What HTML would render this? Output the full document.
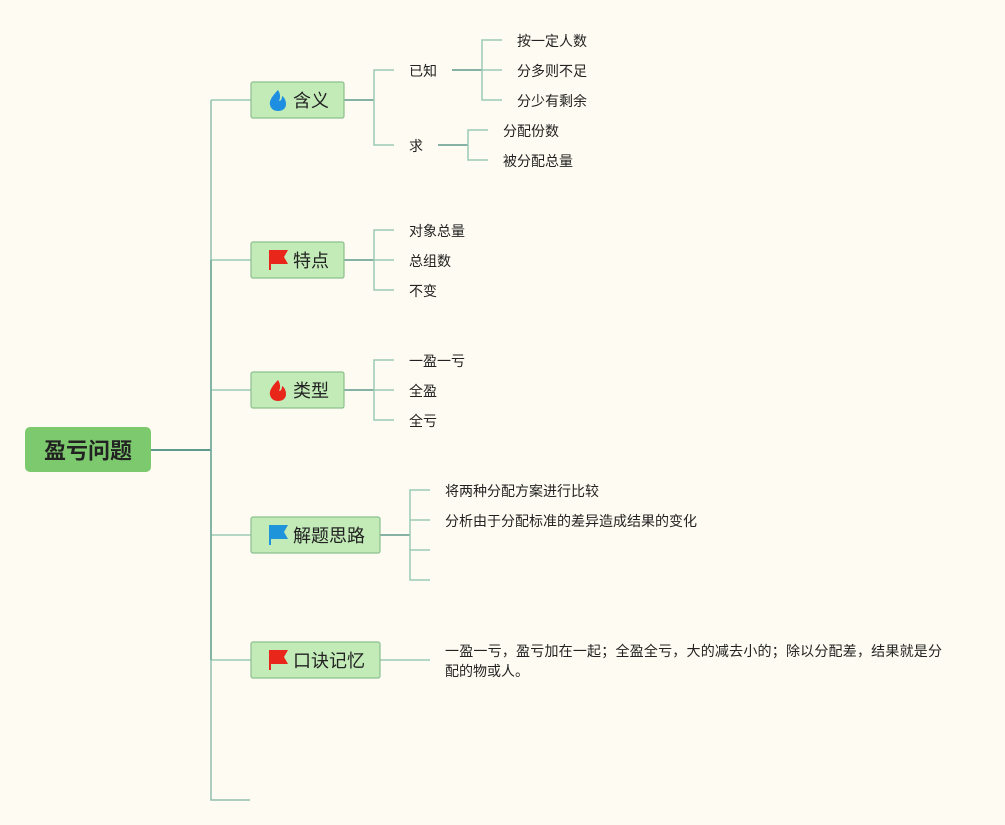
<!DOCTYPE html>
<html><head><meta charset="utf-8"><style>
html,body{margin:0;padding:0;background:#fefcf2;}
svg{display:block;}
text{font-family:"Liberation Sans","Noto Sans CJK SC",sans-serif;fill:#222;dominant-baseline:central;}
.c{font-size:14px;}
.n{font-size:18px;}
</style></head><body>
<svg width="1005" height="825" viewBox="0 0 1005 825">
<rect width="1005" height="825" fill="#fefcf2"/>
<g fill="none" stroke-width="1.5">
<!-- trunk -->
<path d="M151 450H211" stroke="#5e9a8c" stroke-width="2"/>
<path d="M211 100V800H250" stroke="#8fbfae"/>
<path d="M211 100H251M211 260H251M211 390H251M211 535H251M211 660H251" stroke="#9cc9b4"/>
<path d="M211 260V660" stroke="#6da597"/>
<!-- 含义 -->
<path d="M344 100H374" stroke="#5e9a8c"/>
<path d="M394 70H374V145H394" stroke="#9cc9b4"/>
<path d="M452 70H482" stroke="#5e9a8c"/>
<path d="M502 40H482V100H502M482 70H502" stroke="#9cc9b4"/>
<path d="M438 145H468" stroke="#5e9a8c"/>
<path d="M488 130H468V160H488" stroke="#9cc9b4"/>
<!-- 特点 -->
<path d="M344 260H374" stroke="#5e9a8c"/>
<path d="M394 230H374V290H394M374 260H394" stroke="#9cc9b4"/>
<!-- 类型 -->
<path d="M344 390H374" stroke="#5e9a8c"/>
<path d="M394 360H374V420H394M374 390H394" stroke="#9cc9b4"/>
<!-- 解题思路 -->
<path d="M380 535H410" stroke="#5e9a8c"/>
<path d="M430 490H410V580H430M410 520H430M410 550H430" stroke="#9cc9b4"/>
<!-- 口诀 -->
<path d="M380 660H430" stroke="#9cc9b4"/>
</g>
<!-- root -->
<rect x="25" y="427" width="126" height="45" rx="5" fill="#7dc96e"/>
<text x="88" y="451" text-anchor="middle" style="font-size:22px;font-weight:bold" fill="#111">盈亏问题</text>
<!-- branch nodes -->
<g fill="#c2ebb8" stroke="#8cbf8f" stroke-width="1.2">
<rect x="251" y="82" width="93" height="36" rx="2"/>
<rect x="251" y="242" width="93" height="36" rx="2"/>
<rect x="251" y="372" width="93" height="36" rx="2"/>
<rect x="251" y="517" width="129" height="36" rx="2"/>
<rect x="251" y="642" width="129" height="36" rx="2"/>
</g>
<!-- icons -->
<path d="M278 90 C272 96 269 101 270 105 C271 109 274 111 278 111 C282 111 286 109 286 104 C286 100 284 97 282 96 C282 99 281 101 279 101 C281 97 280 93 278 90Z" fill="#1e8fe0"/>
<path d="M278 380 C272 386 269 391 270 395 C271 399 274 401 278 401 C282 401 286 399 286 394 C286 390 284 387 282 386 C282 389 281 391 279 391 C281 387 280 383 278 380Z" fill="#e8271a"/>
<path d="M269 250H288L284 257L288 264H271V270H269Z" fill="#e8271a"/>
<path d="M269 525H288L284 532L288 539H271V545H269Z" fill="#1e95da"/>
<path d="M269 650H288L284 657L288 664H271V670H269Z" fill="#e8271a"/>
<text class="n" x="293" y="101">含义</text>
<text class="n" x="293" y="261">特点</text>
<text class="n" x="293" y="391">类型</text>
<text class="n" x="293" y="536">解题思路</text>
<text class="n" x="293" y="661">口诀记忆</text>
<!-- children -->
<text class="c" x="409" y="71">已知</text>
<text class="c" x="409" y="146">求</text>
<text class="c" x="517" y="41">按一定人数</text>
<text class="c" x="517" y="71">分多则不足</text>
<text class="c" x="517" y="101">分少有剩余</text>
<text class="c" x="503" y="131">分配份数</text>
<text class="c" x="503" y="161">被分配总量</text>
<text class="c" x="409" y="231">对象总量</text>
<text class="c" x="409" y="261">总组数</text>
<text class="c" x="409" y="291">不变</text>
<text class="c" x="409" y="361">一盈一亏</text>
<text class="c" x="409" y="391">全盈</text>
<text class="c" x="409" y="421">全亏</text>
<text class="c" x="445" y="491">将两种分配方案进行比较</text>
<text class="c" x="445" y="521">分析由于分配标准的差异造成结果的变化</text>
<text class="c" x="445" y="651" textLength="497" lengthAdjust="spacing">一盈一亏，盈亏加在一起；全盈全亏，大的减去小的；除以分配差，结果就是分</text>
<text class="c" x="445" y="671">配的物或人。</text>
</svg>
</body></html>
